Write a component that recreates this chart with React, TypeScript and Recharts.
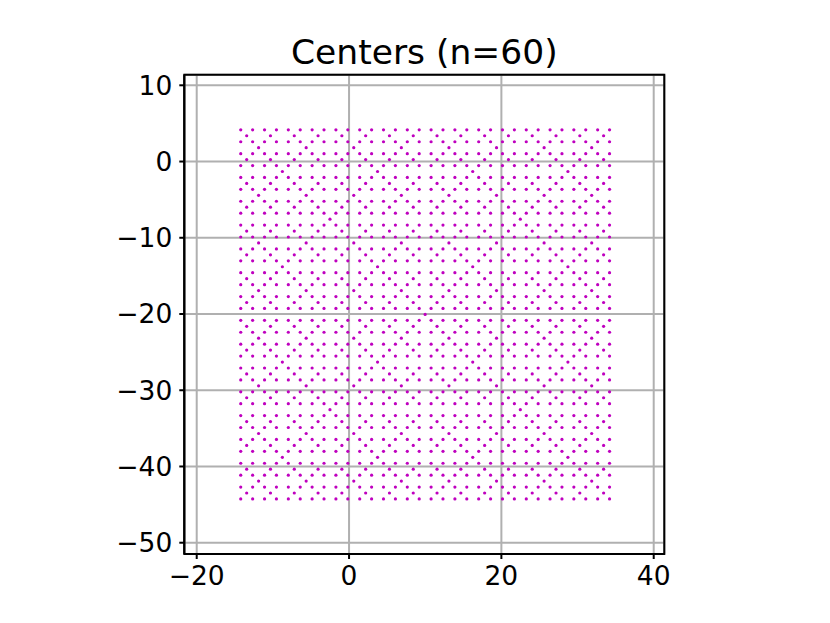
import React from "react";
import { ScatterChart, Scatter, XAxis, YAxis, CartesianGrid, ReferenceArea } from "recharts";

// centers, one string per kind of row (x = dot, . = empty),
// written in blocks of 8 columns
const rowFull = "x.x.x.x. x.x.x.x. x.x.x.x. x.x.x.x. x.x.x.x. x.x.x.x. x.x.x.x. x.x.x.x";
const rowA = ".x...x.. .x...x.. .x...x.. .x...x.. .x...x.. .x...x.. .x...x.. .x...x.";
const rowB = "...x.... ...x.... ...x.... ...x.... ...x.... ...x.... ...x.... ...x...";
const rowC = ".......x ........ .......x ........ .......x ........ .......x .......";
const rowD = "........ .......x ........ ........ ........ .......x ........ .......";
const rowE = "........ ........ ........ .......x ........ ........ ........ .......";

// which kind each row is, from top to bottom
const rowOrder = [
  "FAFBFAFCFAFBFAFD",
  "FAFBFAFCFAFBFAFE",
  "FAFBFAFCFAFBFAFD",
  "FAFBFAFCFAFBFAF",
];

// where the lattice sits in data units
const xStart = -14.22;
const yStart = 4.16;
const pitch = 0.781;

const xTicks = [-20, 0, 20, 40];
const yTicks = [10, 0, -10, -20, -30, -40, -50];
const xDomain: [number, number] = [-21.63, 41.39];
const yDomain: [number, number] = [-51.48, 11.39];

const kinds: Record<string, string> = { F: rowFull, A: rowA, B: rowB, C: rowC, D: rowD, E: rowE };

const points: { x: number; y: number }[] = [];
rowOrder.join("").split("").forEach((k, r) => {
  kinds[k]
    .replace(/ /g, "")
    .split("")
    .forEach((ch, c) => {
      if (ch === "x") points.push({ x: xStart + c * pitch, y: yStart - r * pitch });
    });
});

const fmt = (v: number) => (v < 0 ? "\u2212" + Math.abs(v) : String(v));

const FONT = "DejaVu Sans";
const tickStyle = { fill: "#000", fontSize: 26.5, fontFamily: FONT };
const spine = { stroke: "#000", strokeWidth: 2 };

export default function App() {
  return (
    <div style={{ position: "absolute", left: 0, top: 0, width: 830, height: 623, background: "#fff" }}>
      <div
        style={{
          position: "absolute",
          left: 184.3,
          top: 34.5,
          width: 480,
          textAlign: "center",
          fontFamily: FONT,
          fontSize: 34.5,
          lineHeight: "34px",
          color: "#000",
          whiteSpace: "nowrap",
        }}
      >
        Centers (n=60)
      </div>
      <ScatterChart width={830} height={623} margin={{ top: 74.7, right: 165.7, left: 124.3, bottom: 29 }}>
        <CartesianGrid stroke="#b0b0b0" strokeWidth={2} />
        <XAxis
          type="number"
          dataKey="x"
          domain={xDomain}
          ticks={xTicks}
          interval={0}
          allowDataOverflow
          height={40}
          tickFormatter={fmt}
          tick={tickStyle}
          tickSize={5}
          tickMargin={7.5}
          tickLine={spine}
          axisLine={spine}
        />
        <YAxis
          type="number"
          dataKey="y"
          domain={yDomain}
          ticks={yTicks}
          interval={0}
          allowDataOverflow
          width={60}
          tickFormatter={fmt}
          tick={tickStyle}
          tickSize={5}
          tickMargin={7}
          tickLine={spine}
          axisLine={spine}
        />
        <Scatter
          data={points}
          isAnimationActive={false}
          shape={(p: any) => <circle cx={p.cx} cy={p.cy} r={1.6} fill="#bf00bf" />}
        />
        {/* frame round the plot area (matplotlib spines) */}
        <ReferenceArea
          x1={xDomain[0]}
          x2={xDomain[1]}
          y1={yDomain[0]}
          y2={yDomain[1]}
          fill="none"
          fillOpacity={0}
          stroke="#000"
          strokeWidth={2}
          ifOverflow="visible"
        />
      </ScatterChart>
    </div>
  );
}
